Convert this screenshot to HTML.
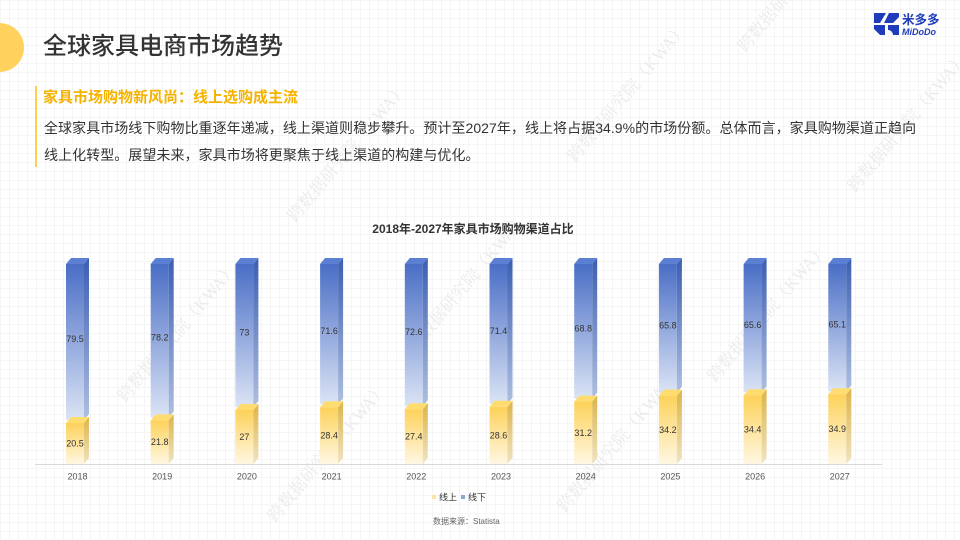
<!DOCTYPE html>
<html><head><meta charset="utf-8">
<style>
html,body{margin:0;padding:0;width:960px;height:540px;overflow:hidden;}
body{position:relative;background:#fff;
background-image:linear-gradient(#f5f5f5 1px,transparent 1px),linear-gradient(90deg,#f5f5f5 1px,transparent 1px);
background-size:9px 9px;font-family:"Liberation Sans","Noto Sans CJK SC",sans-serif;}
.wm{position:absolute;font-family:"Liberation Serif","Noto Serif CJK SC",serif;font-size:17px;color:#ebebeb;transform:rotate(-50deg);transform-origin:0 0;white-space:nowrap;}
.circle{position:absolute;left:-25px;top:23px;width:49px;height:49px;border-radius:50%;background:#ffd25e;}
.title{position:absolute;left:43px;top:31px;font-size:24px;line-height:32px;color:#333;font-family:"Liberation Sans","Noto Sans CJK SC",sans-serif;font-weight:500;}
.vline{position:absolute;left:35px;top:86px;width:2px;height:81px;background:#ffd04e;}
.sub{position:absolute;left:43px;top:88px;font-size:15px;line-height:20px;font-weight:bold;color:#f5b300;}
.body{position:absolute;left:44px;top:115px;font-size:14px;line-height:26.5px;color:#333;white-space:nowrap;letter-spacing:0.05px;}
</style></head>
<body>
<div class="wm" style="left:730px;top:40px;">跨数据研究院（KWA）</div>
<div class="wm" style="left:560px;top:150px;">跨数据研究院（KWA）</div>
<div class="wm" style="left:840px;top:180px;">跨数据研究院（KWA）</div>
<div class="wm" style="left:280px;top:210px;">跨数据研究院（KWA）</div>
<div class="wm" style="left:110px;top:390px;">跨数据研究院（KWA）</div>
<div class="wm" style="left:400px;top:340px;">跨数据研究院（KWA）</div>
<div class="wm" style="left:700px;top:370px;">跨数据研究院（KWA）</div>
<div class="wm" style="left:260px;top:510px;">跨数据研究院（KWA）</div>
<div class="wm" style="left:550px;top:500px;">跨数据研究院（KWA）</div>

<div class="circle"></div>
<div class="title">全球家具电商市场趋势</div>
<div class="vline"></div>
<div class="sub">家具市场购物新风尚：线上选购成主流</div>
<div class="body">全球家具市场线下购物比重逐年递减，线上渠道则稳步攀升。预计至2027年，线上将占据34.9%的市场份额。总体而言，家具购物渠道正趋向<br>线上化转型。展望未来，家具市场将更聚焦于线上渠道的构建与优化。</div>

<svg width="960" height="540" style="position:absolute;left:0;top:0;" xmlns="http://www.w3.org/2000/svg">
<defs>
<linearGradient id="bf" x1="0" y1="0" x2="0" y2="1"><stop offset="0" stop-color="#4a6ec6"/><stop offset="1" stop-color="#dbe4f5"/></linearGradient>
<linearGradient id="bs" x1="0" y1="0" x2="0" y2="1"><stop offset="0" stop-color="#3c5eb0"/><stop offset="1" stop-color="#aebfe0"/></linearGradient>
<linearGradient id="yf" x1="0" y1="0" x2="0" y2="1"><stop offset="0" stop-color="#fdd25a"/><stop offset="1" stop-color="#fff7e3"/></linearGradient>
<linearGradient id="ys" x1="0" y1="0" x2="0" y2="1"><stop offset="0" stop-color="#dcb44a"/><stop offset="1" stop-color="#efe4c2"/></linearGradient>
</defs>

<!-- logo -->
<g fill="#1f3dbb">
<polygon points="874,13 886,13 880,23 874,23"/>
<polygon points="889,13 899,13 899,17 893,23 884,23"/>
<polygon points="874,25 885,25 885,35 880,35 874,29"/>
<path d="M888,25 H899 V35 H893 A5,5 0 0 0 888,30 Z"/>
</g>
<text x="902" y="24" font-size="12.5" font-weight="bold" fill="#1f3dbb" font-family="Liberation Sans, Noto Sans CJK SC, sans-serif">米多多</text>
<text x="902" y="35" font-size="9" font-weight="bold" font-style="italic" fill="#1f3dbb" font-family="Liberation Sans, sans-serif">MiDoDo</text>

<!-- chart title -->
<text x="473" y="229" text-anchor="middle" dominant-baseline="central" font-size="12" font-weight="bold" fill="#333">2018年-2027年家具市场购物渠道占比</text>

<!-- axis -->
<line x1="35" y1="464.5" x2="882" y2="464.5" stroke="#d9d9d9" stroke-width="1"/>

<g font-size="9" fill="#333" text-anchor="middle" dominant-baseline="central">
<g transform="translate(66,0)">
<rect x="0" y="264" width="18" height="156" fill="url(#bf)"/><polygon points="18,264 23,258 23,414 18,420" fill="url(#bs)"/><polygon points="0,264 5,258 23,258 18,264" fill="#5a7fd3"/>
<rect x="0" y="423" width="18" height="41" fill="url(#yf)"/><polygon points="18,423 23,417 23,458 18,464" fill="url(#ys)"/><polygon points="0,423 5,417 23,417 18,423" fill="#ffdc70"/>
<text x="9" y="339">79.5</text><text x="9" y="443.5">20.5</text>
</g>
<g transform="translate(150.7,0)">
<rect x="0" y="264" width="18" height="153.4" fill="url(#bf)"/><polygon points="18,264 23,258 23,411.4 18,417.4" fill="url(#bs)"/><polygon points="0,264 5,258 23,258 18,264" fill="#5a7fd3"/>
<rect x="0" y="420.4" width="18" height="43.6" fill="url(#yf)"/><polygon points="18,420.4 23,414.4 23,458 18,464" fill="url(#ys)"/><polygon points="0,420.4 5,414.4 23,414.4 18,420.4" fill="#ffdc70"/>
<text x="9" y="337.7">78.2</text><text x="9" y="442.2">21.8</text>
</g>
<g transform="translate(235.4,0)">
<rect x="0" y="264" width="18" height="143" fill="url(#bf)"/><polygon points="18,264 23,258 23,401 18,407" fill="url(#bs)"/><polygon points="0,264 5,258 23,258 18,264" fill="#5a7fd3"/>
<rect x="0" y="410" width="18" height="54" fill="url(#yf)"/><polygon points="18,410 23,404 23,458 18,464" fill="url(#ys)"/><polygon points="0,410 5,404 23,404 18,410" fill="#ffdc70"/>
<text x="9" y="332.5">73</text><text x="9" y="437">27</text>
</g>
<g transform="translate(320.1,0)">
<rect x="0" y="264" width="18" height="140.2" fill="url(#bf)"/><polygon points="18,264 23,258 23,398.2 18,404.2" fill="url(#bs)"/><polygon points="0,264 5,258 23,258 18,264" fill="#5a7fd3"/>
<rect x="0" y="407.2" width="18" height="56.8" fill="url(#yf)"/><polygon points="18,407.2 23,401.2 23,458 18,464" fill="url(#ys)"/><polygon points="0,407.2 5,401.2 23,401.2 18,407.2" fill="#ffdc70"/>
<text x="9" y="331.1">71.6</text><text x="9" y="435.6">28.4</text>
</g>
<g transform="translate(404.8,0)">
<rect x="0" y="264" width="18" height="142.2" fill="url(#bf)"/><polygon points="18,264 23,258 23,400.2 18,406.2" fill="url(#bs)"/><polygon points="0,264 5,258 23,258 18,264" fill="#5a7fd3"/>
<rect x="0" y="409.2" width="18" height="54.8" fill="url(#yf)"/><polygon points="18,409.2 23,403.2 23,458 18,464" fill="url(#ys)"/><polygon points="0,409.2 5,403.2 23,403.2 18,409.2" fill="#ffdc70"/>
<text x="9" y="332.1">72.6</text><text x="9" y="436.6">27.4</text>
</g>
<g transform="translate(489.5,0)">
<rect x="0" y="264" width="18" height="139.8" fill="url(#bf)"/><polygon points="18,264 23,258 23,397.8 18,403.8" fill="url(#bs)"/><polygon points="0,264 5,258 23,258 18,264" fill="#5a7fd3"/>
<rect x="0" y="406.8" width="18" height="57.2" fill="url(#yf)"/><polygon points="18,406.8 23,400.8 23,458 18,464" fill="url(#ys)"/><polygon points="0,406.8 5,400.8 23,400.8 18,406.8" fill="#ffdc70"/>
<text x="9" y="330.9">71.4</text><text x="9" y="435.4">28.6</text>
</g>
<g transform="translate(574.2,0)">
<rect x="0" y="264" width="18" height="134.6" fill="url(#bf)"/><polygon points="18,264 23,258 23,392.6 18,398.6" fill="url(#bs)"/><polygon points="0,264 5,258 23,258 18,264" fill="#5a7fd3"/>
<rect x="0" y="401.6" width="18" height="62.4" fill="url(#yf)"/><polygon points="18,401.6 23,395.6 23,458 18,464" fill="url(#ys)"/><polygon points="0,401.6 5,395.6 23,395.6 18,401.6" fill="#ffdc70"/>
<text x="9" y="328.3">68.8</text><text x="9" y="432.8">31.2</text>
</g>
<g transform="translate(658.9,0)">
<rect x="0" y="264" width="18" height="128.6" fill="url(#bf)"/><polygon points="18,264 23,258 23,386.6 18,392.6" fill="url(#bs)"/><polygon points="0,264 5,258 23,258 18,264" fill="#5a7fd3"/>
<rect x="0" y="395.6" width="18" height="68.4" fill="url(#yf)"/><polygon points="18,395.6 23,389.6 23,458 18,464" fill="url(#ys)"/><polygon points="0,395.6 5,389.6 23,389.6 18,395.6" fill="#ffdc70"/>
<text x="9" y="325.3">65.8</text><text x="9" y="429.8">34.2</text>
</g>
<g transform="translate(743.6,0)">
<rect x="0" y="264" width="18" height="128.2" fill="url(#bf)"/><polygon points="18,264 23,258 23,386.2 18,392.2" fill="url(#bs)"/><polygon points="0,264 5,258 23,258 18,264" fill="#5a7fd3"/>
<rect x="0" y="395.2" width="18" height="68.8" fill="url(#yf)"/><polygon points="18,395.2 23,389.2 23,458 18,464" fill="url(#ys)"/><polygon points="0,395.2 5,389.2 23,389.2 18,395.2" fill="#ffdc70"/>
<text x="9" y="325.1">65.6</text><text x="9" y="429.6">34.4</text>
</g>
<g transform="translate(828.3,0)">
<rect x="0" y="264" width="18" height="127.2" fill="url(#bf)"/><polygon points="18,264 23,258 23,385.2 18,391.2" fill="url(#bs)"/><polygon points="0,264 5,258 23,258 18,264" fill="#5a7fd3"/>
<rect x="0" y="394.2" width="18" height="69.8" fill="url(#yf)"/><polygon points="18,394.2 23,388.2 23,458 18,464" fill="url(#ys)"/><polygon points="0,394.2 5,388.2 23,388.2 18,394.2" fill="#ffdc70"/>
<text x="9" y="324.6">65.1</text><text x="9" y="429.1">34.9</text>
</g>
</g>

<!-- year labels -->
<g font-size="9" fill="#555" text-anchor="middle" dominant-baseline="central">
<text x="77.5" y="476.5">2018</text>
<text x="162.2" y="476.5">2019</text>
<text x="246.9" y="476.5">2020</text>
<text x="331.6" y="476.5">2021</text>
<text x="416.3" y="476.5">2022</text>
<text x="501" y="476.5">2023</text>
<text x="585.7" y="476.5">2024</text>
<text x="670.4" y="476.5">2025</text>
<text x="755.1" y="476.5">2026</text>
<text x="839.8" y="476.5">2027</text>
</g>

<!-- legend -->
<rect x="432" y="495" width="4" height="4" fill="#fbe3a0"/>
<text x="439" y="497.5" font-size="9" fill="#333" dominant-baseline="central">线上</text>
<rect x="461" y="495" width="4" height="4" fill="#8ea6d8"/>
<text x="468" y="497.5" font-size="9" fill="#333" dominant-baseline="central">线下</text>

<!-- source -->
<text x="433" y="521.5" font-size="8" fill="#666" dominant-baseline="central">数据来源：Statista</text>
</svg>
</body></html>
